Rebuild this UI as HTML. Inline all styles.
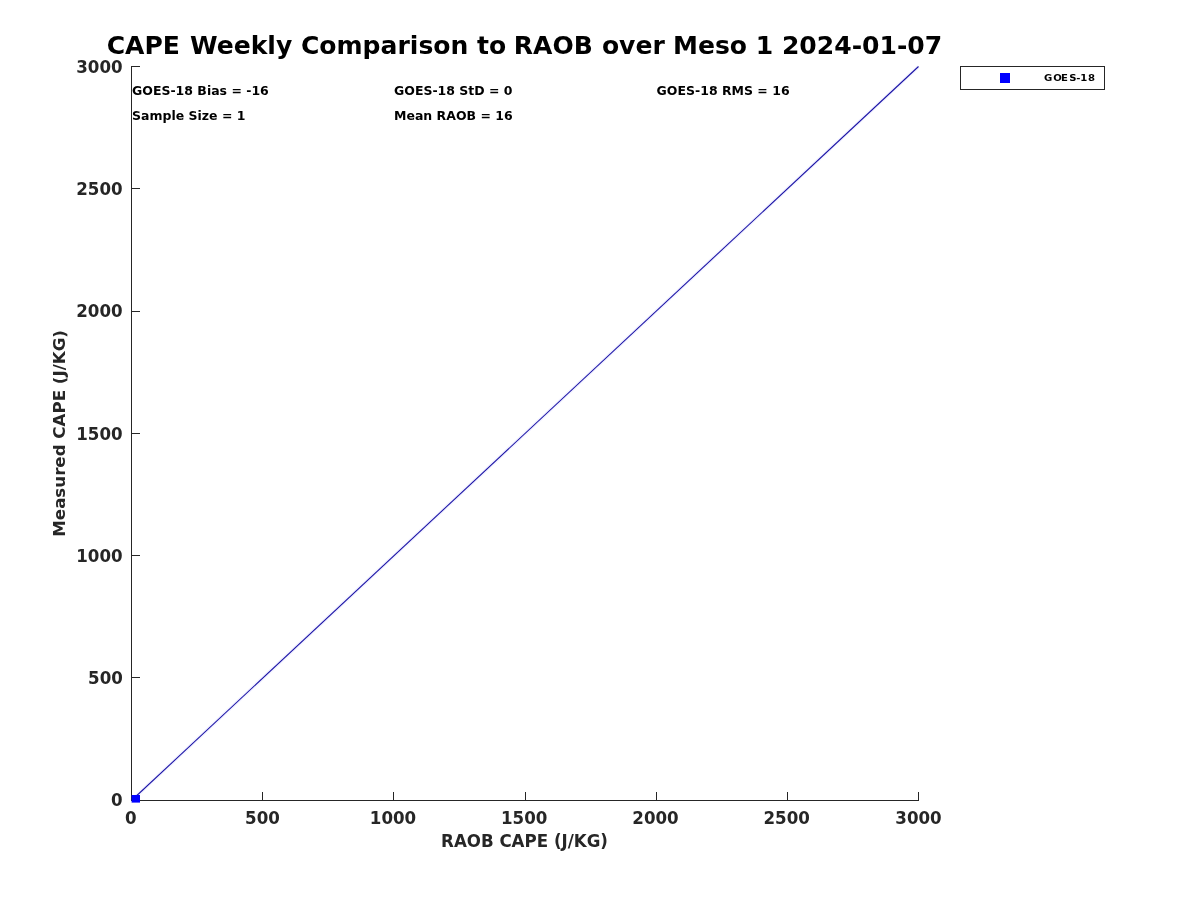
<!DOCTYPE html>
<html>
<head>
<meta charset="utf-8">
<title>CAPE Weekly Comparison</title>
<style>
html,body{margin:0;padding:0;background:#fff;}
body{width:1200px;height:900px;overflow:hidden;}
svg{display:block;will-change:transform;}
text{font-family:"DejaVu Sans","Liberation Sans",sans-serif;font-weight:bold;}
.tick{font-size:16.67px;fill:#262626;}
.stat{font-size:12.5px;fill:#000;}
.axl{font-size:16.67px;fill:#262626;}
</style>
</head>
<body>
<svg width="1200" height="900" viewBox="0 0 1200 900">
<rect x="0" y="0" width="1200" height="900" fill="#ffffff"/>

<!-- title -->
<text transform="translate(524.4 54) scale(1 0.985)" font-size="25.05" text-anchor="middle" fill="#000">CAPE <tspan dx="1.3">Weekly Comparison to</tspan><tspan dx="-1.2"> RAOB</tspan><tspan dx="0.4"> over</tspan><tspan dx="-0.5"> Meso 1 2024-01-07</tspan></text>

<!-- 1:1 line -->
<line x1="131.5" y1="800.5" x2="918.5" y2="66.5" stroke="#0000ff" stroke-opacity="0.06" stroke-width="3.5"/>
<line x1="131.5" y1="800.5" x2="918.5" y2="66.5" stroke="#1810a4" stroke-width="1.05"/>

<!-- axes -->
<g stroke="#262626" stroke-width="1" fill="none" shape-rendering="crispEdges">
<line x1="131.5" y1="66" x2="131.5" y2="801"/>
<line x1="131" y1="800.5" x2="919" y2="800.5"/>
<!-- x ticks -->
<line x1="131.5" y1="792" x2="131.5" y2="800"/>
<line x1="262.5" y1="792" x2="262.5" y2="800"/>
<line x1="393.5" y1="792" x2="393.5" y2="800"/>
<line x1="525.5" y1="792" x2="525.5" y2="800"/>
<line x1="656.5" y1="792" x2="656.5" y2="800"/>
<line x1="787.5" y1="792" x2="787.5" y2="800"/>
<line x1="918.5" y1="792" x2="918.5" y2="800"/>
<!-- y ticks -->
<line x1="131" y1="66.5" x2="140" y2="66.5"/>
<line x1="131" y1="188.5" x2="140" y2="188.5"/>
<line x1="131" y1="311.5" x2="140" y2="311.5"/>
<line x1="131" y1="433.5" x2="140" y2="433.5"/>
<line x1="131" y1="555.5" x2="140" y2="555.5"/>
<line x1="131" y1="677.5" x2="140" y2="677.5"/>
</g>

<!-- data marker -->
<rect x="131.6" y="795" width="8.4" height="7.6" fill="#0000ff"/>

<!-- x tick labels -->
<g class="tick" text-anchor="middle">
<text transform="translate(130.7 824.1) scale(1 1.075)">0</text>
<text transform="translate(262.5 824.1) scale(1 1.075)">500</text>
<text transform="translate(393 824.1) scale(1 1.075)">1000</text>
<text transform="translate(524.2 824.1) scale(1 1.075)">1500</text>
<text transform="translate(655.5 824.1) scale(1 1.075)">2000</text>
<text transform="translate(786.7 824.1) scale(1 1.075)">2500</text>
<text transform="translate(918.5 824.1) scale(1 1.075)">3000</text>
</g>
<!-- y tick labels -->
<g class="tick" text-anchor="end">
<text transform="translate(122.6 806.2) scale(1 1.03)">0</text>
<text transform="translate(122.9 684.3) scale(1 1.075)">500</text>
<text transform="translate(122.6 562) scale(1 1.075)">1000</text>
<text transform="translate(122.6 440) scale(1 1.075)">1500</text>
<text transform="translate(122.6 317.3) scale(1 1.075)">2000</text>
<text transform="translate(122.6 195) scale(1 1.075)">2500</text>
<text transform="translate(122.6 73.2) scale(1 1.075)">3000</text>
</g>

<!-- axis labels -->
<text class="axl" transform="translate(524.5 846.9) scale(1 1.08)" text-anchor="middle">RAOB CAPE (J/KG)</text>
<text class="axl" transform="translate(65.2 433.4) rotate(-90) scale(1 0.97)" text-anchor="middle">Measured CAPE (J/KG)</text>

<!-- stats -->
<g class="stat">
<text transform="translate(132 95) scale(1 1.04)">GOES-18 Bias = -16</text>
<text transform="translate(132 119.9) scale(1 1.035)">Sample Size = 1</text>
<text transform="translate(394 95) scale(1 1.04)">GOES-18 StD = 0</text>
<text transform="translate(394 119.9) scale(1 1.035)">Mean RAOB = 16</text>
<text transform="translate(656.6 95) scale(1 1.04)">GOES-18 RMS = 16</text>
</g>

<!-- legend -->
<rect x="960.5" y="66.5" width="144" height="23" fill="#fff" stroke="#262626" stroke-width="1" shape-rendering="crispEdges"/>
<rect x="1000" y="73" width="10" height="10" fill="#0000ff"/>
<text transform="translate(0 80.7) scale(1 0.94)" x="1044 1053.3 1060.9 1069.3 1076.3 1080.2 1088" y="0" font-size="10.1" fill="#000">GOES-18</text>
</svg>
</body>
</html>
